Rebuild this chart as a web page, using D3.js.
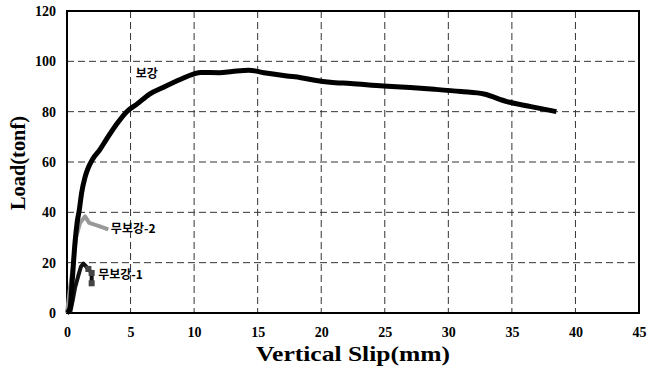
<html>
<head>
<style>
  body { margin: 0; background: #fff; }
  text { font-family: "Liberation Serif", "Times New Roman", serif; font-weight: bold; }
  .lbl { font-family: "Noto Sans CJK KR", sans-serif; font-weight: bold; font-size: 12px; }
</style>
</head>
<body>
<script src="https://d3js.org/d3.v7.min.js"></script>
<script>

    // slip (mm), load (tonf)
    var bogang = [[0,0],[0.24,2],[0.4,12],[0.63,28],[0.8,36],[0.97,41],[1.15,47.7],[1.42,54],[1.7,58],[2.0,61],
        [2.6,65],[3.1,69],[3.9,75],[4.7,80],[5.5,83],[6.5,87],[7.5,89.5],[8.9,92.8],[10.0,95],[10.5,95.6],
        [12,95.5],[13,96],[14.3,96.5],[15.5,95.5],[17.3,94.2],[18.4,93.5],[19.5,92.5],[20.7,91.7],[22.3,91.2],
        [24.9,90.2],[27,89.6],[28.9,88.9],[31,88],[32.8,87],[34.6,84],[36.5,82],[38.5,80]];
    var mubogang2 = [[0,0],[0.24,10],[0.5,20],[0.71,30],[1.02,35.7],[1.42,38.4],[1.75,35.8],[2.47,34.6],[3.25,33.2]];
    var mubogang1 = [[0.24,0],[0.45,5],[0.63,10],[0.9,15],[1.1,18.5],[1.29,19.6],[1.68,17.5],[1.94,15.9],[1.94,11.8]];

    var xTicks = [0,5,10,15,20,25,30,35,40,45];
    var yTicks = [0,20,40,60,80,100,120];

    var labels = [
        {text: "보강", x: 5.4, y: 95},
        {text: "무보강-2", x: 3.45, y: 33.5},
        {text: "무보강-1", x: 2.45, y: 15.2}
    ];

    var width = 647, height = 369;
    var mLeft = 67, mRight = 639, mTop = 11, mBottom = 313;

    var x = d3.scaleLinear().domain([0, 45]).range([mLeft, mRight]);
    var y = d3.scaleLinear().domain([0, 120]).range([mBottom, mTop]);

    var svg = d3.select("body").append("svg").attr("width", width).attr("height", height);

    // grid
    var grid = svg.append("g").attr("stroke", "#333").attr("stroke-width", 1).attr("stroke-dasharray", "7,4");
    grid.selectAll(".gx").data(xTicks.slice(1, -1)).enter().append("line")
        .attr("x1", function (d) { return x(d); }).attr("x2", function (d) { return x(d); })
        .attr("y1", mTop).attr("y2", mBottom);
    grid.selectAll(".gy").data(yTicks.slice(1, -1)).enter().append("line")
        .attr("y1", function (d) { return y(d); }).attr("y2", function (d) { return y(d); })
        .attr("x1", mLeft).attr("x2", mRight);

    // axes
    var xAxis = d3.axisBottom(x).tickValues(xTicks).tickSize(0).tickPadding(14);
    var yAxis = d3.axisLeft(y).tickValues(yTicks).tickSize(0).tickPadding(11);

    var gx = svg.append("g").attr("transform", "translate(0," + mBottom + ")").call(xAxis);
    var gy = svg.append("g").attr("transform", "translate(" + mLeft + ",0)").call(yAxis);
    [gx, gy].forEach(function (g) {
        g.select(".domain").remove();
        g.selectAll("text").attr("font-size", 14).attr("font-family", "Liberation Serif").attr("font-weight", "bold").attr("fill", "#000");
    });

    // frame
    svg.append("rect").attr("x", mLeft).attr("y", mTop).attr("width", mRight - mLeft).attr("height", mBottom - mTop)
        .attr("fill", "none").attr("stroke", "#000").attr("stroke-width", 2);

    var line = d3.line().x(function (d) { return x(d[0]); }).y(function (d) { return y(d[1]); });

    svg.append("path").datum(mubogang2).attr("d", line)
        .attr("fill", "none").attr("stroke", "#999").attr("stroke-width", 4).attr("stroke-linejoin", "round");
    svg.append("path").datum(mubogang1).attr("d", line)
        .attr("fill", "none").attr("stroke", "#111").attr("stroke-width", 4).attr("stroke-linejoin", "round");
    svg.selectAll(".sq").data(mubogang1.slice(-3)).enter().append("rect")
        .attr("x", function (d) { return x(d[0]) - 3; }).attr("y", function (d) { return y(d[1]) - 3; })
        .attr("width", 6).attr("height", 6).attr("fill", "#444");
    svg.append("path").datum(bogang).attr("d", line.curve(d3.curveMonotoneX))
        .attr("fill", "none").attr("stroke", "#000").attr("stroke-width", 5).attr("stroke-linejoin", "round");

    // curve labels
    svg.selectAll(".lbl").data(labels).enter().append("text").attr("class", "lbl")
        .attr("x", function (d) { return x(d.x); }).attr("y", function (d) { return y(d.y); })
        .attr("dy", "0.35em").text(function (d) { return d.text; });

    // axis titles
    svg.append("text").attr("x", 353).attr("y", 361)
        .attr("text-anchor", "middle").attr("font-size", 21)
        .attr("textLength", 194).attr("lengthAdjust", "spacingAndGlyphs").text("Vertical Slip(mm)");
    svg.append("text").attr("transform", "translate(25,163) rotate(-90)")
        .attr("text-anchor", "middle").attr("font-size", 20)
        .attr("textLength", 94).attr("lengthAdjust", "spacingAndGlyphs").text("Load(tonf)");

</script>
</body>
</html>
